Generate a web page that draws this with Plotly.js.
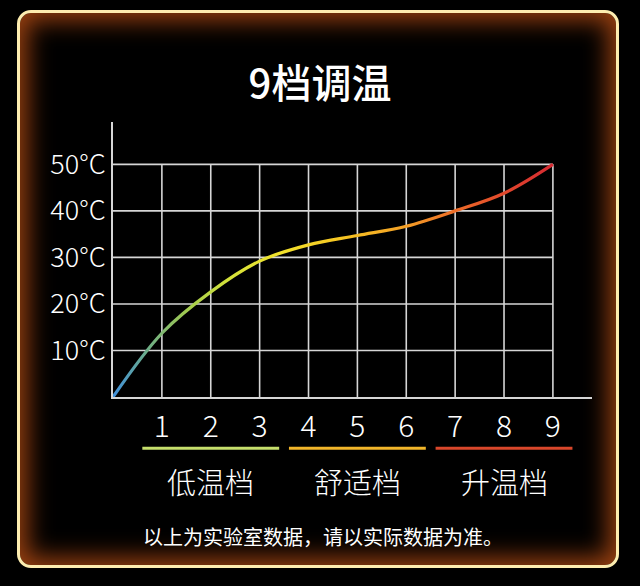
<!DOCTYPE html>
<html>
<head>
<meta charset="utf-8">
<script src="https://cdn.plot.ly/plotly-3.0.1.min.js"></script>
<style>
  html, body { margin:0; padding:0; background:#000; }
  #wrap { position:relative; width:640px; height:586px; background:#000; overflow:hidden; }
  #frame { position:absolute; left:17px; top:10px; width:596px; height:552px;
           border:3px solid #fdedb0; border-radius:14px;
           box-shadow: inset 0 0 24px 7px rgba(170,72,18,0.92); }
  #chart { position:absolute; left:0; top:0; width:640px; height:586px; }
</style>
</head>
<body>
<div id="wrap">
  <div id="frame"></div>
  <div id="chart"></div>
</div>
<script>
// ---- data ----
const gears = [0, 1, 2, 3, 4, 5, 6, 7, 8, 9];
const temps = [0, 13.7, 22.6, 29.2, 32.7, 34.7, 36.7, 40.0, 43.8, 50.0];
const xTickVals = [1, 2, 3, 4, 5, 6, 7, 8, 9];
const xTickText = ['1', '2', '3', '4', '5', '6', '7', '8', '9'];
const yTickVals = [10, 20, 30, 40, 50];
const yTickText = ['10°C', '20°C', '30°C', '40°C', '50°C'];
const groupNames = ['低温档', '舒适档', '升温档'];
const groupFirst = [1, 4, 7];
const groupLast = [3, 6, 9];
const groupColors = ['#c6df6c', '#f2b62a', '#d9472b'];
const titleText = '9档调温';
const noteText = '以上为实验室数据，请以实际数据为准。';
const gradOffsets = [0, 0.08, 0.17, 0.26, 0.38, 0.52, 0.66, 0.78, 0.9, 1];
const gradColors = ['#3f8fdc', '#6eae86', '#a3cc4e', '#d4e23a', '#f2e22c', '#f6c522', '#f4a126', '#ee6c28', '#e0442c', '#d62a32'];

const FONT = '"Noto Sans CJK SC", "Noto Sans", sans-serif';
const xRange = [0, 9.8];
const yRange = [0, 59.1];
const xMax = xTickVals[xTickVals.length - 1];
const yMax = yTickVals[yTickVals.length - 1];
const xp = v => (v - xRange[0]) / (xRange[1] - xRange[0]);

const shapes = [];
xTickVals.forEach(v => shapes.push({type:'line', xref:'x', yref:'y', x0:v, x1:v, y0:0, y1:yMax,
  line:{color:'#d6d6d6', width:1.6}, layer:'below'}));
yTickVals.forEach(v => shapes.push({type:'line', xref:'x', yref:'y', x0:0, x1:xMax, y0:v, y1:v,
  line:{color:'#d6d6d6', width:1.6}, layer:'below'}));
const annotations = [];
groupNames.forEach((name, i) => {
  const c = (groupFirst[i] + groupLast[i]) / 2;
  shapes.push({type:'line', xref:'paper', yref:'paper', x0:xp(c - 1.4), x1:xp(c + 1.4), y0:-0.186, y1:-0.186,
    line:{color:groupColors[i], width:3}});
  annotations.push({xref:'paper', yref:'paper', x:xp(c), y:-0.307, xanchor:'center', yanchor:'middle',
    text:name, showarrow:false, font:{family:FONT, size:29, color:'#ffffff', weight:300}});
});
annotations.push({xref:'paper', yref:'paper', x:xp(4.3), y:-0.509, xanchor:'center', yanchor:'middle',
  text:noteText, showarrow:false, font:{family:FONT, size:20, color:'#ffffff'}});

const trace = {x:gears, y:temps, type:'scatter', mode:'lines',
  line:{shape:'spline', smoothing:1, color:'#f2c522', width:3.2}, cliponaxis:false, hoverinfo:'skip'};

const layout = {
  width:640, height:586,
  margin:{l:113, r:48, t:122, b:189},
  paper_bgcolor:'rgba(0,0,0,0)', plot_bgcolor:'rgba(0,0,0,0)',
  showlegend:false,
  title:{text:titleText, x:0.5, xanchor:'center', y:1 - 84/586, yanchor:'middle',
    font:{family:FONT, size:40, color:'#ffffff', weight:500}},
  xaxis:{range:xRange, showgrid:false, zeroline:false, showline:true, linecolor:'#d6d6d6', linewidth:2,
    tickmode:'array', tickvals:xTickVals, ticktext:xTickText, ticks:'', ticklabelstandoff:2,
    tickfont:{family:FONT, size:30, color:'#ffffff', weight:300}, fixedrange:true},
  yaxis:{range:yRange, showgrid:false, zeroline:false, showline:true, linecolor:'#d6d6d6', linewidth:2,
    tickmode:'array', tickvals:yTickVals, ticktext:yTickText, ticks:'', ticklabelstandoff:0,
    tickfont:{family:FONT, size:27, color:'#ffffff', weight:300}, fixedrange:true},
  shapes:shapes, annotations:annotations
};

Plotly.newPlot('chart', [trace], layout, {displayModeBar:false, staticPlot:true}).then(gd => {
  const svg = gd.querySelector('svg.main-svg');
  const NS = 'http://www.w3.org/2000/svg';
  let defs = svg.querySelector('defs');
  if (!defs) { defs = document.createElementNS(NS, 'defs'); svg.insertBefore(defs, svg.firstChild); }
  const grad = document.createElementNS(NS, 'linearGradient');
  grad.setAttribute('id', 'curveGrad');
  grad.setAttribute('x1', '0'); grad.setAttribute('y1', '0');
  grad.setAttribute('x2', '1'); grad.setAttribute('y2', '0');
  gradOffsets.forEach((o, i) => {
    const s = document.createElementNS(NS, 'stop');
    s.setAttribute('offset', o);
    s.setAttribute('stop-color', gradColors[i]);
    grad.appendChild(s);
  });
  defs.appendChild(grad);
  gd.querySelectorAll('g.trace.scatter path.js-line').forEach(p => { p.style.stroke = 'url(#curveGrad)'; });
});
</script>
</body>
</html>
